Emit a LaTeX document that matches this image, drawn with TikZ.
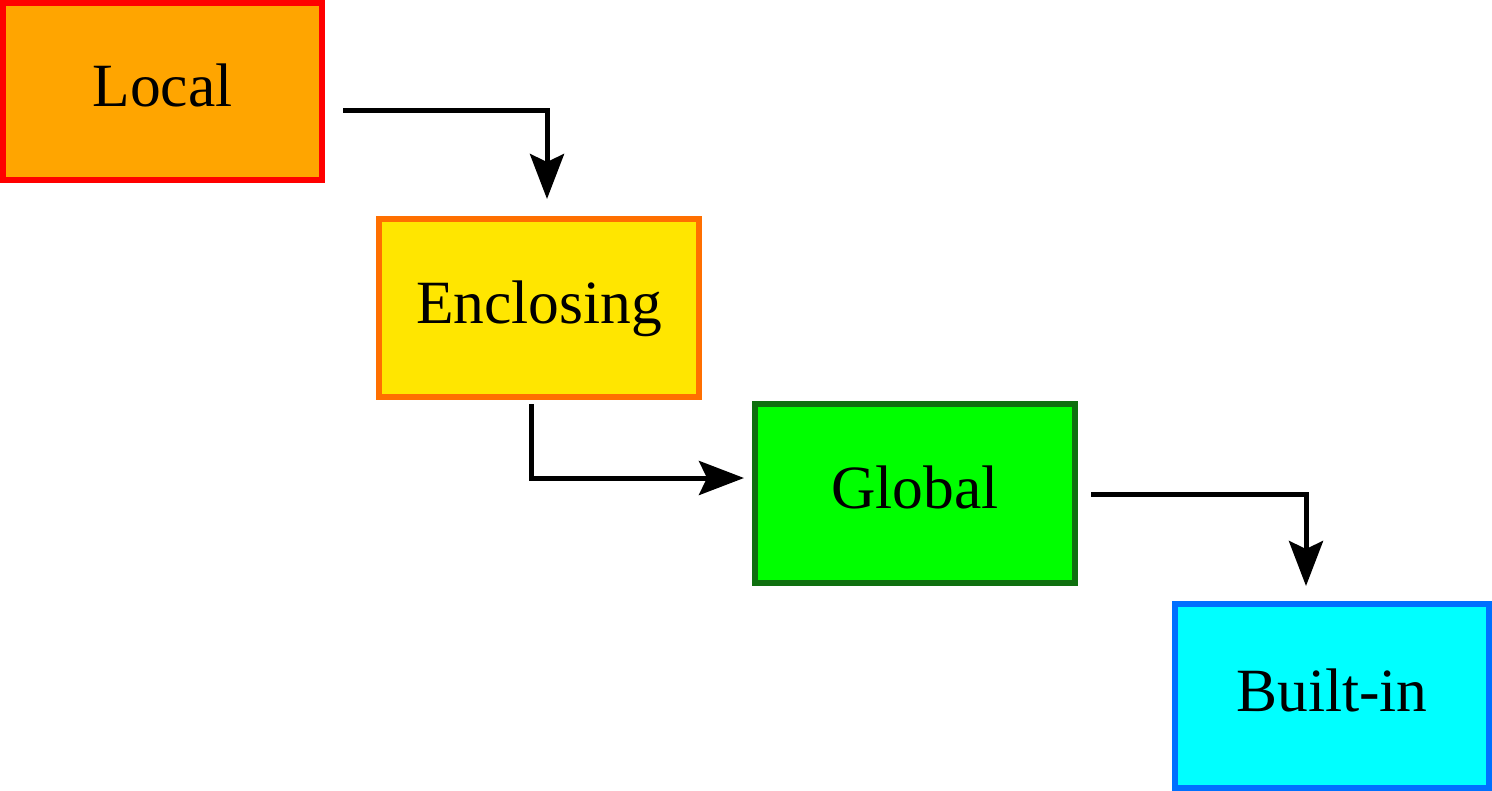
\documentclass[tikz,border=0pt]{standalone}
\usepackage{fontspec}
\setmainfont{Liberation Serif}
\usepackage{tikz}
\usetikzlibrary{arrows.meta,positioning}
\definecolor{localfill}{HTML}{FFA500}
\definecolor{localline}{HTML}{FF0000}
\definecolor{enclfill}{HTML}{FFE600}
\definecolor{enclline}{HTML}{FF6F00}
\definecolor{globfill}{HTML}{00FF00}
\definecolor{globline}{HTML}{0F700F}
\definecolor{builtfill}{HTML}{00FFFF}
\definecolor{builtline}{HTML}{0070FF}
\tikzset{
    scopebox/.style = {draw, line width=0.13cm, inner sep=0pt, text depth=0.25cm,
        font=\fontsize{35}{40}\selectfont},
    flow/.style = {line width=0.1cm, -{Stealth[length=0.9cm, width=0.68cm, inset=0.16cm]}}
}

\begin{document}
\begin{tikzpicture}[x=0.02cm, y=-0.02cm]
                \useasboundingbox (0,0) rectangle (1492,791);

                % scopes
                \node[scopebox, fill=localfill, draw=localline,
                      minimum width=6.38cm, minimum height=3.54cm] (local) at (162.5,91.5) {Local};
                \node[scopebox, fill=enclfill, draw=enclline,
                      minimum width=6.4cm, minimum height=3.56cm] (encl) at (539,308) {Enclosing};
                \node[scopebox, fill=globfill, draw=globline,
                      minimum width=6.4cm, minimum height=3.58cm] (glob) at (915,493.5) {Global};
                \node[scopebox, fill=builtfill, draw=builtline,
                      minimum width=6.28cm, minimum height=3.68cm] (built) at (1332,696) {Built-in};

                % lookup order
                \coordinate (l2e) at (343,110);
                \coordinate (e2l) at (547,199);
                \coordinate (e2g) at (531,404);
                \coordinate (g2e) at (744,478);
                \coordinate (g2b) at (1091,494);
                \coordinate (b2g) at (1306,586);

                \draw[flow] (l2e) -| (e2l);
                \draw[flow] (e2g) |- (g2e);
                \draw[flow] (g2b) -| (b2g);

            \end{tikzpicture}
\end{document}
